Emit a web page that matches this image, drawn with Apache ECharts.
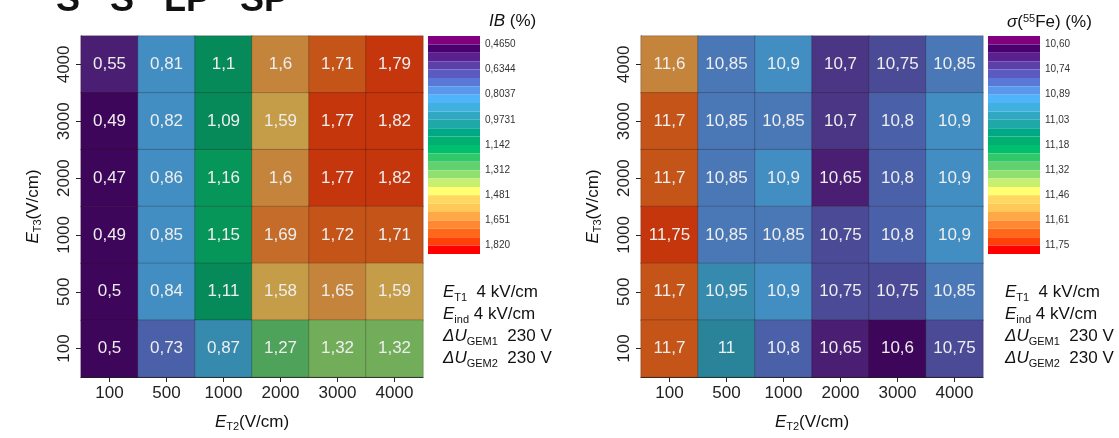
<!DOCTYPE html>
<html><head><meta charset="utf-8">
<script src="https://cdn.jsdelivr.net/npm/echarts@6/dist/echarts.min.js"></script>
<style>html,body{margin:0;padding:0;background:#fff}#c{width:1119px;height:438px}</style>
</head><body><div id="c"></div>
<script>
// ---- data ----
const xCats = ['100', '500', '1000', '2000', '3000', '4000'];   // E_T2 (V/cm)
const yCats = ['100', '500', '1000', '2000', '3000', '4000'];   // E_T3 (V/cm), bottom to top
// rows listed top (E_T3 = 4000) to bottom (E_T3 = 100), columns E_T2 = 100 ... 4000
const ibRows = [
  [0.55, 0.81, 1.1, 1.6, 1.71, 1.79],
  [0.49, 0.82, 1.09, 1.59, 1.77, 1.82],
  [0.47, 0.86, 1.16, 1.6, 1.77, 1.82],
  [0.49, 0.85, 1.15, 1.69, 1.72, 1.71],
  [0.5, 0.84, 1.11, 1.58, 1.65, 1.59],
  [0.5, 0.73, 0.87, 1.27, 1.32, 1.32]
];
const sigmaRows = [
  [11.6, 10.85, 10.9, 10.7, 10.75, 10.85],
  [11.7, 10.85, 10.85, 10.7, 10.8, 10.9],
  [11.7, 10.85, 10.9, 10.65, 10.8, 10.9],
  [11.75, 10.85, 10.85, 10.75, 10.8, 10.9],
  [11.7, 10.95, 10.9, 10.75, 10.75, 10.85],
  [11.7, 11, 10.8, 10.65, 10.6, 10.75]
];
const ibTicks = ['0,4650', '0,6344', '0,8037', '0,9731', '1,142', '1,312', '1,481', '1,651', '1,820'];
const sigmaTicks = ['10,60', '10,74', '10,89', '11,03', '11,18', '11,32', '11,46', '11,61', '11,75'];
const ibRange = [0.465, 1.820];
const sigmaRange = [10.60, 11.75];
// colour bands of the scale, top to bottom
const bandColors = ['#800080', '#4b0070', '#5a2090', '#5a40a8', '#5a5ac0', '#5a78d8', '#5a98ec', '#50b4fa',
  '#40b0e0', '#30a8c4', '#20a8a8', '#00a888', '#00b070', '#00c070', '#30c868', '#60d070', '#90e070',
  '#c8f070', '#ffff70', '#ffd860', '#ffc858', '#ffa848', '#ff8830', '#ff6818', '#ff4008', '#ff0000'];

// ---- helpers ----
function muted(hex) {
  const n = parseInt(hex.slice(1), 16);
  const f = c => Math.round(c * 0.75 + 6);
  return 'rgb(' + f(n >> 16 & 255) + ',' + f(n >> 8 & 255) + ',' + f(n & 255) + ')';
}
function pieces(range) {
  const nb = bandColors.length;
  const d = (range[1] - range[0]) / (nb - 2);
  const edges = [];
  for (let k = 1; k <= nb - 1; k++) edges[k] = range[0] + (k - 1) * d;
  edges[1] = range[0] - 1e-9;
  edges[nb - 1] = range[1] + 1e-9;
  edges[0] = -1e9;
  edges[nb] = 1e9;
  return bandColors.map((c, k) => ({ gte: edges[k], lt: edges[k + 1], color: muted(c) }));
}
function cells(rows) {
  const out = [];
  rows.forEach((row, r) => row.forEach((v, c) => out.push([c, yCats.length - 1 - r, v])));
  return out;
}
const tickPos = ibTicks.map((t, i) => 1 + 3 * i);
const FONT = '"Liberation Sans", Arial, sans-serif';
const rich = {
  i: { fontStyle: 'italic', fontWeight: 'normal', fontSize: 17, fontFamily: FONT, color: '#111' },
  s: { fontSize: 11, fontWeight: 'normal', fontFamily: FONT, color: '#111', verticalAlign: 'bottom', padding: [9, 0, 0, 0] },
  t: { fontSize: 17, fontWeight: 'normal', fontFamily: FONT, color: '#111' }
};

const gridL = { left: 81, top: 36, width: 342, height: 341 };
const gridR = { left: 641, top: 36, width: 342, height: 341 };

function mainX(g) {
  return {
    gridIndex: g, type: 'category', data: xCats,
    axisLine: { show: true, lineStyle: { color: '#222', width: 1 } },
    axisTick: { show: true, alignWithLabel: true, length: 5, lineStyle: { color: '#222' } },
    axisLabel: { fontSize: 17, color: '#222', fontFamily: FONT, margin: 8 },
    splitLine: { show: false },
    name: '{i|E}{s|T2}{t|(V/cm)}', nameLocation: 'middle', nameGap: 35,
    nameTextStyle: { rich: rich, fontSize: 17 }
  };
}
function mainY(g) {
  return {
    gridIndex: g, type: 'category', data: yCats,
    axisLine: { show: true, lineStyle: { color: '#222', width: 1 } },
    axisTick: { show: true, alignWithLabel: true, length: 5, lineStyle: { color: '#222' } },
    axisLabel: { fontSize: 17, color: '#222', fontFamily: FONT, rotate: 90, margin: 8 },
    splitLine: { show: false },
    name: '{i|E}{s|T3}{t|(V/cm)}', nameLocation: 'middle', nameGap: 38,
    nameTextStyle: { rich: rich, fontSize: 17 }
  };
}
function legX(g) { return { gridIndex: g, type: 'category', data: ['scale'], show: false }; }
function legY(g, ticks) {
  return {
    gridIndex: g, type: 'value', min: 0, max: bandColors.length, inverse: true, position: 'right',
    axisLine: { show: false }, axisTick: { show: false }, splitLine: { show: false },
    axisLabel: { customValues: tickPos, formatter: v => ticks[Math.round((v - 1) / 3)],
      fontSize: 10, color: '#333', fontFamily: FONT, margin: 5 }
  };
}
function heat(idx, rows) {
  return {
    type: 'heatmap', xAxisIndex: idx, yAxisIndex: idx, data: cells(rows),
    itemStyle: { borderColor: 'rgba(40,20,20,0.25)', borderWidth: 1 },
    label: { show: true, formatter: p => String(p.value[2]).replace('.', ','),
      color: '#eeeeee', fontSize: 17, fontFamily: FONT },
    emphasis: { disabled: true }, silent: true
  };
}
function scaleSeries(idx) {
  return bandColors.map(c => ({
    type: 'bar', xAxisIndex: idx, yAxisIndex: idx, stack: 'scale' + idx, data: [1],
    barWidth: '100%', itemStyle: { color: c }, silent: true
  }));
}
const noteText = '{i|E}{s|T1}{t|  4 kV/cm}\n{i|E}{s|ind}{t| 4 kV/cm}\n{i|ΔU}{s|GEM1}{t|  230 V}\n{i|ΔU}{s|GEM2}{t|  230 V}';

const option = {
  backgroundColor: '#fff',
  animation: false,
  title: [
    { text: 'S   S   LP   SP', left: 51, top: -22, textStyle: { fontSize: 36, fontWeight: 'bold', color: '#111', fontFamily: FONT } },
    { text: '{i|IB}{t| (%)}', left: 484, top: 8, textStyle: { rich: rich, fontWeight: 'normal' } },
    { text: '{i|σ}{t|(}{p|55}{t|Fe) (%)}', left: 1002, top: 8,
      textStyle: { fontWeight: 'normal', rich: Object.assign({}, rich, { p: { fontSize: 11, fontWeight: 'normal', fontFamily: FONT, color: '#111', verticalAlign: 'top', padding: [0, 0, 8, 0] } }) } },
    { text: noteText, left: 438, top: 276, textStyle: { rich: rich, lineHeight: 22, fontWeight: 'normal' } },
    { text: noteText, left: 1000, top: 276, textStyle: { rich: rich, lineHeight: 22, fontWeight: 'normal' } }
  ],
  grid: [
    Object.assign({ containLabel: false }, gridL),
    Object.assign({ containLabel: false }, gridR),
    { left: 428, top: 36, width: 52, height: 218 },
    { left: 988, top: 36, width: 52, height: 218 }
  ],
  xAxis: [mainX(0), mainX(1), legX(2), legX(3)],
  yAxis: [mainY(0), mainY(1), legY(2, ibTicks), legY(3, sigmaTicks)],
  visualMap: [
    { type: 'piecewise', show: false, seriesIndex: 0, dimension: 2, pieces: pieces(ibRange) },
    { type: 'piecewise', show: false, seriesIndex: 1, dimension: 2, pieces: pieces(sigmaRange) }
  ],
  series: [heat(0, ibRows), heat(1, sigmaRows)].concat(scaleSeries(2), scaleSeries(3))
};
const chart = echarts.init(document.getElementById('c'), null, { renderer: 'canvas' });
chart.setOption(option);
</script>
</body></html>
